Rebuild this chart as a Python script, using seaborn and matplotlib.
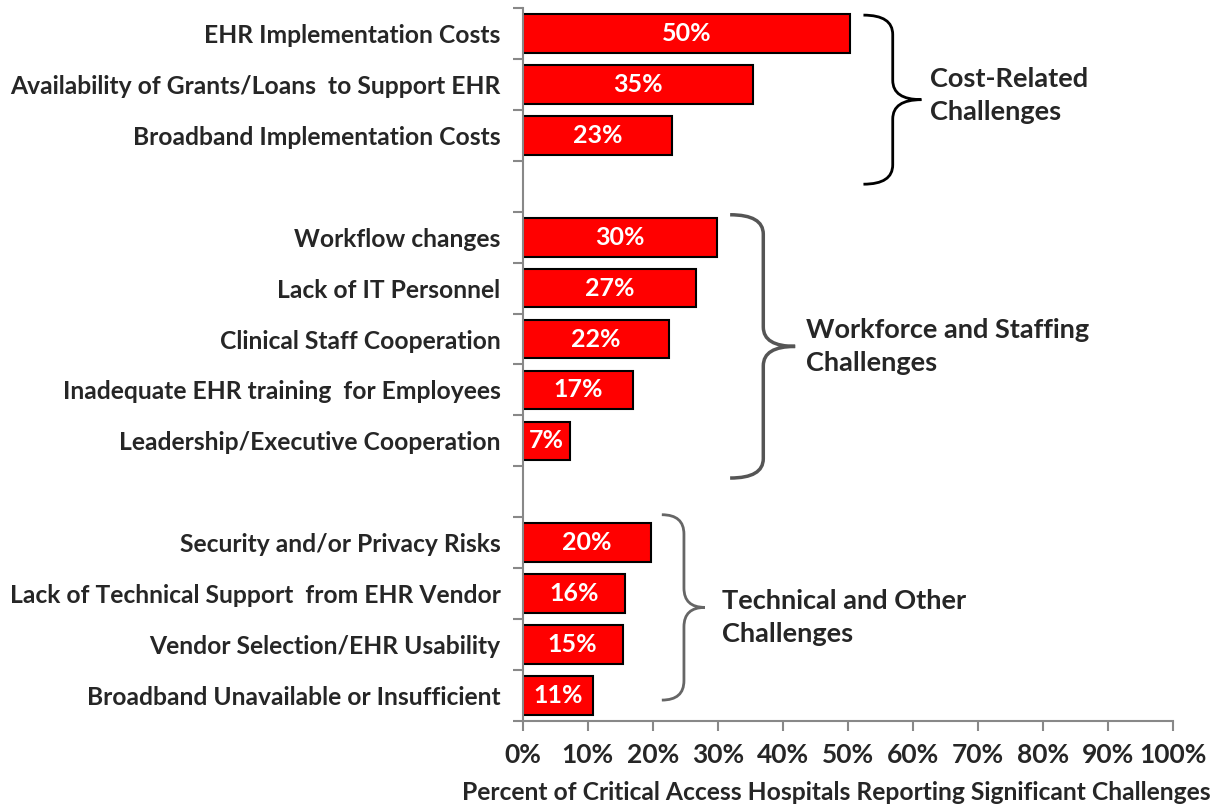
import matplotlib
matplotlib.use("Agg")
import matplotlib.pyplot as plt
from matplotlib.path import Path
from matplotlib.patches import PathPatch
import matplotlib.ticker as ticker
import pandas as pd
import seaborn as sns

# Challenges reported by critical access hospitals (percent)
challenges = ["EHR Implementation Costs",
              "Availability of Grants/Loans  to Support EHR",
              "Broadband Implementation Costs",
              "Workflow changes",
              "Lack of IT Personnel",
              "Clinical Staff Cooperation",
              "Inadequate EHR training  for Employees",
              "Leadership/Executive Cooperation",
              "Security and/or Privacy Risks",
              "Lack of Technical Support  from EHR Vendor",
              "Vendor Selection/EHR Usability",
              "Broadband Unavailable or Insufficient"]
percent = [50.4, 35.4, 23.0, 29.9, 26.7, 22.5, 17.0, 7.3, 19.8, 15.8, 15.4, 10.8]
percent_labels = ["50%", "35%", "23%", "30%", "27%", "22%", "17%", "7%",
                  "20%", "16%", "15%", "11%"]

groups = ["Cost-Related\nChallenges",
          "Workforce and Staffing\nChallenges",
          "Technical and Other\nChallenges"]
group_sizes = [3, 5, 4]

# category order with an empty slot between groups
order = []
i = 0
for g, n in enumerate(group_sizes):
    order += challenges[i:i + n]
    i += n
    if g < len(group_sizes) - 1:
        order.append(" " * (g + 1))

df = pd.DataFrame({"challenge": challenges, "percent": percent})

sns.set_style("white")
plt.rcParams['font.family'] = ['Lato', 'DejaVu Sans']
plt.rcParams['font.weight'] = 'bold'

fig = plt.figure(figsize=(12.18, 8.07), dpi=100)
ax = fig.add_axes([0.4291, 0.1066, 0.5340, 0.8835])

sns.barplot(data=df, y="challenge", x="percent", order=order, orient="h",
            color="#ff0000", saturation=1, width=0.76,
            edgecolor="black", linewidth=1.5, ax=ax)

for cont in ax.containers:
    ax.bar_label(cont, labels=percent_labels, label_type="center",
                 color="white", fontsize=18, fontweight="bold")

ax.set_xlim(0, 100)
ax.set_ylim(len(order) - 0.5, -0.5)
ax.xaxis.set_major_locator(ticker.MultipleLocator(10))
ax.xaxis.set_major_formatter(ticker.FuncFormatter(lambda v, _: f"{v:.0f}%"))

# labels at category centres, tick marks at the boundaries
ax.set_yticks(range(len(order)))
ax.set_yticklabels([c if c.strip() else "" for c in order])
ax.set_yticks([k - 0.5 for k in range(len(order) + 1)], minor=True)
ax.tick_params(axis="y", which="major", length=0, pad=16, labelsize=17.7)
ax.tick_params(axis="y", which="minor", length=7, width=1.5, color="#888888", left=True)
ax.tick_params(axis="x", length=7, width=1.5, color="#888888", pad=9, labelsize=19, bottom=True)
for lab in ax.get_yticklabels() + ax.get_xticklabels():
    lab.set_fontweight("bold")

for s in ["top", "right"]:
    ax.spines[s].set_visible(False)
for s in ["left", "bottom"]:
    ax.spines[s].set_color("#888888")
    ax.spines[s].set_linewidth(1.5)

ax.set_ylabel("")
ax.set_xlabel("Percent of Critical Access Hospitals Reporting Significant Challenges",
              fontsize=17.7, fontweight="bold", labelpad=10, x=0.482)


def brace(ax, x0, xv, xtip, ytop, ybot, r, color, lw):
    ym = (ytop + ybot) / 2
    verts = [(x0, ytop), (xv, ytop), (xv, ytop + r),
             (xv, ym - r), (xv, ym), (xtip, ym),
             (xv, ym), (xv, ym + r),
             (xv, ybot - r), (xv, ybot), (x0, ybot)]
    codes = [Path.MOVETO, Path.CURVE3, Path.CURVE3,
             Path.LINETO, Path.CURVE3, Path.CURVE3,
             Path.CURVE3, Path.CURVE3,
             Path.LINETO, Path.CURVE3, Path.CURVE3]
    ax.add_patch(PathPatch(Path(verts, codes), fill=False, edgecolor=color,
                           lw=lw, clip_on=False))


# brace geometry: (left x, spine x, tip x, top y, bottom y)
braces = [(52.4, 56.9, 61.3, -0.36, 2.96, "black", 2.0),
          (31.9, 37.0, 41.9, 3.56, 8.73, "#555555", 2.5),
          (21.4, 24.8, 28.0, 9.45, 13.09, "#666666", 2.0)]
text_x = [62.6, 43.6, 30.6]
text_dy = [-0.09, 0.0, 0.2]

for (x0, xv, xt, yt, yb, col, lw), g, tx, dy in zip(braces, groups, text_x, text_dy):
    brace(ax, x0, xv, xt, yt, yb, 0.38, col, lw)
    ax.text(tx, (yt + yb) / 2 + dy, g, fontsize=19.5, fontweight="bold",
            ha="left", va="center", linespacing=1.45)

fig.savefig("out.png", dpi=100)
